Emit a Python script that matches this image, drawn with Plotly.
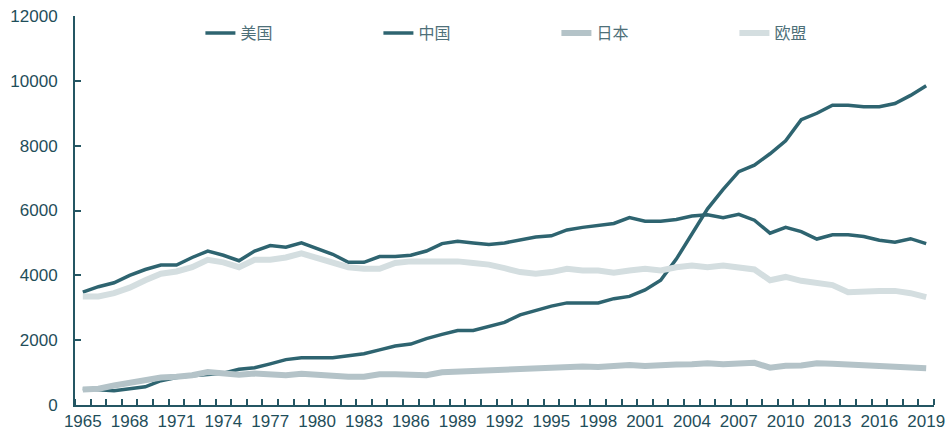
import plotly.graph_objects as go

years = list(range(1965, 2020))

us = [3480, 3650, 3770, 4000, 4180, 4320, 4320, 4550, 4750, 4620,
      4450, 4750, 4920, 4870, 5000, 4820, 4650, 4400, 4400, 4580,
      4580, 4620, 4750, 4980, 5050, 5000, 4950, 5000, 5100, 5180,
      5220, 5400, 5480, 5530, 5600, 5780, 5670, 5670, 5720, 5830,
      5870, 5780, 5880, 5700, 5300, 5480, 5350, 5120, 5250, 5250,
      5200, 5080, 5020, 5130, 4980]

china = [500, 480, 440, 500, 560, 750, 850, 900, 950, 980,
         1100, 1150, 1270, 1400, 1460, 1460, 1460, 1520, 1580, 1700,
         1820, 1880, 2050, 2180, 2300, 2300, 2420, 2550, 2780, 2920,
         3050, 3150, 3150, 3150, 3280, 3350, 3550, 3850, 4500, 5300,
         6050, 6650, 7200, 7400, 7750, 8150, 8800, 9000, 9250, 9250,
         9200, 9200, 9300, 9550, 9850]

japan = [480, 500, 600, 680, 750, 850, 870, 920, 1020, 980,
         930, 970, 960, 920, 960, 920, 900, 870, 870, 950,
         950, 920, 920, 1010, 1030, 1080, 1090, 1110, 1120, 1170,
         1180, 1190, 1190, 1170, 1200, 1230, 1200, 1240, 1250, 1260,
         1290, 1260, 1280, 1300, 1150, 1210, 1220, 1290, 1270, 1250,
         1210, 1200, 1190, 1160, 1130]

eu = [3350, 3350, 3450, 3620, 3850, 4050, 4120, 4250, 4480, 4400,
      4250, 4480, 4480, 4550, 4680, 4530, 4380, 4250, 4200, 4200,
      4380, 4430, 4430, 4430, 4430, 4380, 4330, 4220, 4100, 4050,
      4100, 4200, 4150, 4150, 4080, 4150, 4200, 4150, 4250, 4300,
      4250, 4300, 4230, 4180, 3850, 3950, 3830, 3780, 3700, 3480,
      3520, 3520, 3520, 3450, 3330]

series_names = ["美国", "中国", "日本", "欧盟"]
tick_years = list(range(1965, 2020, 3))
tick_labels = [str(y) for y in tick_years]
y_ticks = [0, 2000, 4000, 6000, 8000, 10000, 12000]

dark = "#2E6470"
axis_col = "#245663"
text_col = "#1F4E5A"

fig = go.Figure()
styles = [
    (us, dark, 3.5),
    (china, dark, 3.5),
    (japan, "#B4C3C8", 6),
    (eu, "#D4DEE0", 6),
]
for name, (vals, col, w) in zip(series_names, styles):
    fig.add_trace(go.Scatter(x=years, y=vals, mode="lines", name=name,
                             line=dict(color=col, width=w)))

fig.update_layout(
    width=950, height=435,
    margin=dict(l=75, r=16, t=16, b=30, autoexpand=False),
    plot_bgcolor="white", paper_bgcolor="white",
    font=dict(family="Liberation Sans, Arial, sans-serif", size=17, color=text_col),
    legend=dict(
        orientation="h", x=0.146, xanchor="left", y=0.956, yanchor="middle",
        entrywidth=133, entrywidthmode="pixels", itemwidth=30,
        font=dict(family="Noto Sans CJK SC", size=16, color="#4E7079"),
        bgcolor="rgba(0,0,0,0)", tracegroupgap=0,
    ),
    showlegend=True,
)

fig.update_xaxes(
    range=[1964.5, 2019.5],
    tickmode="array", tickvals=tick_years, ticktext=tick_labels,
    ticks="", showgrid=False, zeroline=False,
    showline=True, linecolor=axis_col, linewidth=2,
    tickfont=dict(size=17, color=text_col),
    minor=dict(tickmode="linear", tick0=1964.5, dtick=1, ticks="inside",
               ticklen=6, tickwidth=1.5, tickcolor=axis_col, showgrid=False),
)
fig.update_yaxes(
    range=[0, 12000],
    tickmode="array", tickvals=y_ticks, ticktext=[str(v) for v in y_ticks],
    ticks="inside", ticklen=6, tickwidth=1.5, tickcolor=axis_col,
    showgrid=False, zeroline=False,
    showline=True, linecolor=axis_col, linewidth=2,
    tickfont=dict(size=17, color=text_col),
    ticklabelstandoff=12,
)

fig.write_html(
    "out.html",
    config={"displayModeBar": False},
    post_script="document.body.style.margin='0';document.body.style.overflow='hidden';",
)
